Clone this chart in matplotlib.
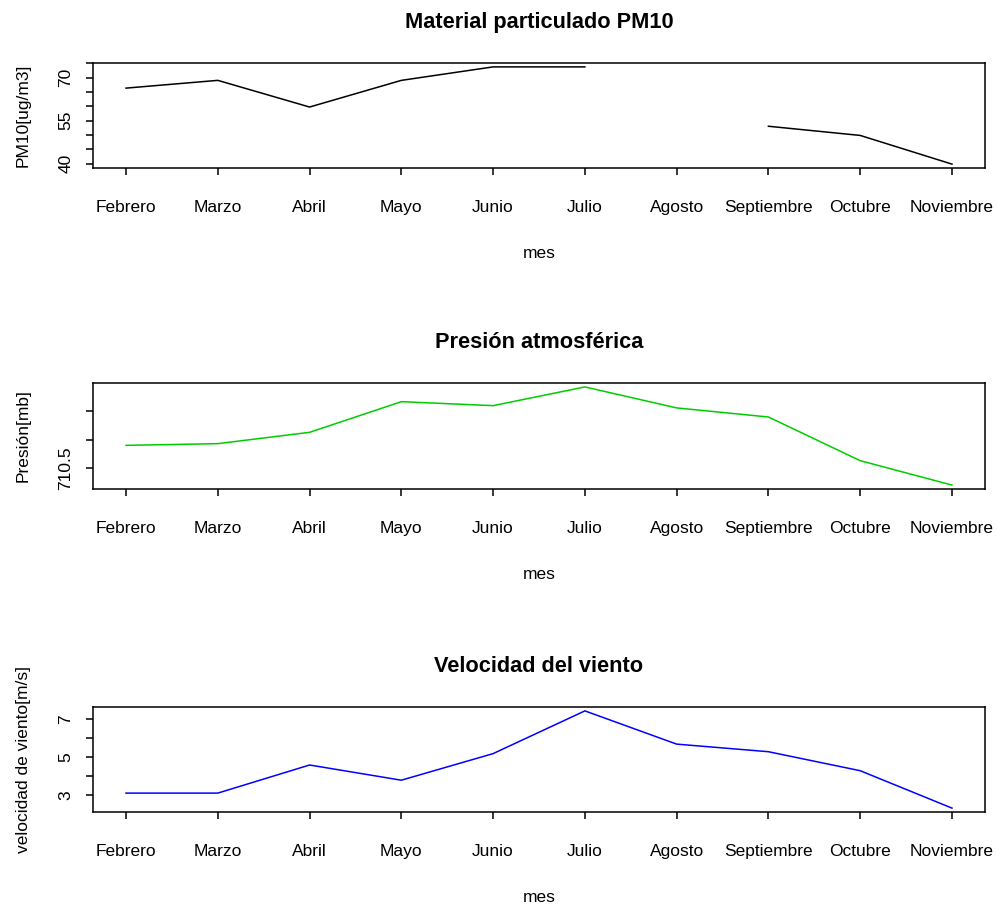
import numpy as np
import matplotlib
matplotlib.use("Agg")
import matplotlib.pyplot as plt

plt.rcParams['font.family'] = ['Liberation Sans', 'DejaVu Sans']

meses = ['Febrero', 'Marzo', 'Abril', 'Mayo', 'Junio', 'Julio',
         'Agosto', 'Septiembre', 'Octubre', 'Noviembre']

# PM10 (ug/m3) - Agosto sin dato
pm10 = [66.3, 69.0, 59.7, 69.0, 73.7, 73.7, np.nan, 53.0, 49.8, 39.8]
# presion atmosferica (mb)
presion = [710.90, 710.93, 711.13, 711.67, 711.60, 711.93, 711.56, 711.40, 710.63, 710.20]
# velocidad del viento (m/s)
viento = [3.12, 3.12, 4.60, 3.80, 5.20, 7.45, 5.70, 5.30, 4.30, 2.33]

pm10_ticks = [40, 45, 50, 55, 60, 65, 70, 75]
pm10_labels = ['40', '', '', '55', '', '', '70', '']
presion_ticks = [710.5, 711.0, 711.5]
presion_labels = ['710.5', '', '']
viento_ticks = [3, 4, 5, 6, 7]
viento_labels = ['3', '', '5', '', '7']

fig = plt.figure(figsize=(9.97, 9.05), dpi=100)

W, H = 997, 905
def box(top, bottom, left=93, right=985):
    return [left / W, 1 - bottom / H, (right - left) / W, (bottom - top) / H]

paneles = [
    (box(63, 168), pm10, 'black', 'Material particulado PM10', 'PM10[ug/m3]',
     pm10_ticks, pm10_labels),
    (box(383, 489), presion, '#00cd00', 'Presión atmosférica', 'Presión[mb]',
     presion_ticks, presion_labels),
    (box(707, 812), viento, 'blue', 'Velocidad del viento', 'velocidad de viento[m/s]',
     viento_ticks, viento_labels),
]

x = np.arange(1, len(meses) + 1)
fs = 12.5
for rect, vals, col, titulo, ylab, yt, ytl in paneles:
    ax = fig.add_axes(rect)
    ax.plot(x, vals, color=col, lw=1.1)
    v = np.array(vals, dtype=float)
    lo, hi = np.nanmin(v), np.nanmax(v)
    r = hi - lo
    ax.set_ylim(lo - 0.04 * r, hi + 0.04 * r)
    ax.set_xlim(1 - 0.04 * 9, 10 + 0.04 * 9)
    ax.set_xticks(x)
    ax.set_xticklabels(meses, fontsize=fs)
    ax.set_yticks(yt)
    ax.set_yticklabels(ytl, fontsize=fs, rotation=90, va='center')
    ax.tick_params(axis='x', length=7 * 0.72, width=1.1, pad=18)
    ax.tick_params(axis='y', length=7 * 0.72, width=1.1, pad=9)
    for s in ax.spines.values():
        s.set_linewidth(1.1)
    ax.set_title(titulo, fontsize=15.7, fontweight='bold', pad=25.5)
    ax.set_xlabel('mes', fontsize=fs, labelpad=22)
    ax.set_ylabel(ylab, fontsize=fs, labelpad=20)

fig.savefig('out.png', dpi=100)
